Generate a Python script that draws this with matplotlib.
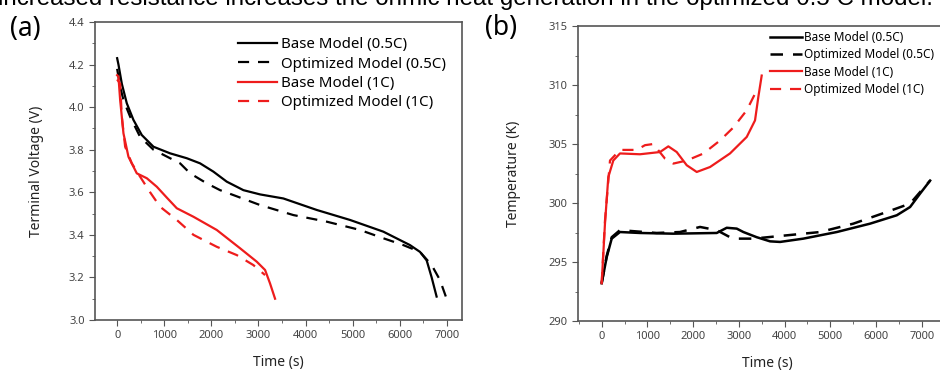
import matplotlib
matplotlib.use("Agg")
import matplotlib.pyplot as plt
from matplotlib.ticker import MultipleLocator

plt.rcParams['font.family'] = ['Noto Sans', 'DejaVu Sans']

# ---------------- (a) terminal voltage ----------------
t_base_05 = [0, 28, 99, 205, 346, 523, 771, 1124, 1478, 1760, 2043, 2326, 2680, 3034, 3528,
             4236, 4943, 5650, 6215, 6428, 6570, 6676, 6781]
v_base_05 = [4.23, 4.20, 4.11, 4.018, 3.94, 3.869, 3.814, 3.783, 3.76, 3.736, 3.697, 3.65, 3.61, 3.59, 3.571,
             3.517, 3.47, 3.415, 3.352, 3.32, 3.28, 3.20, 3.11]

t_opt_05 = [0, 60, 134, 276, 488, 771, 1124, 1336, 1549, 1902, 2185, 2467, 3034, 3740, 4448,
            5155, 5650, 6074, 6428, 6676, 6852, 6993]
v_opt_05 = [4.18, 4.10, 4.033, 3.955, 3.86, 3.80, 3.76, 3.736, 3.689, 3.642, 3.61, 3.587, 3.54, 3.493, 3.462,
            3.423, 3.384, 3.352, 3.32, 3.258, 3.188, 3.10]

t_base_1 = [0, 28, 64, 134, 240, 417, 630, 842, 1054, 1266, 1620, 2114, 2609, 2963, 3140, 3245, 3352]
v_base_1 = [4.15, 4.143, 4.033, 3.877, 3.767, 3.689, 3.666, 3.626, 3.575, 3.525, 3.485, 3.423, 3.337,
            3.274, 3.235, 3.172, 3.10]

t_opt_1 = [0, 64, 99, 170, 311, 488, 700, 912, 1266, 1620, 2114, 2539, 2892, 3140]
v_opt_1 = [4.13, 4.11, 3.955, 3.814, 3.736, 3.673, 3.60, 3.532, 3.47, 3.40, 3.344, 3.305, 3.258, 3.211]

# ---------------- (b) temperature ----------------
tt_base_05 = [0, 109, 219, 400, 838, 1567, 2516, 2735, 2954, 3099, 3392, 3683, 3902, 4411, 5142,
              5871, 6455, 6746, 6965, 7184]
T_base_05 = [293.2, 295.4, 296.98, 297.54, 297.46, 297.4, 297.46, 297.9, 297.83, 297.54, 297.1, 296.75,
             296.7, 296.98, 297.54, 298.25, 298.96, 299.66, 300.8, 301.9]

tt_opt_05 = [0, 109, 219, 400, 1203, 1713, 2151, 2516, 2807, 2880, 3317, 4048, 4777, 5505, 6236,
             6746, 6965, 7184]
T_opt_05 = [293.2, 295.5, 297.1, 297.7, 297.46, 297.54, 297.97, 297.7, 297.1, 296.98, 296.98, 297.26,
            297.54, 298.25, 299.24, 299.95, 300.93, 301.9]

tt_base_1 = [0, 72, 145, 254, 400, 838, 1276, 1458, 1641, 1860, 2079, 2370, 2807, 3173, 3354, 3427, 3500]
T_base_1 = [293.2, 298.25, 302.2, 303.6, 304.2, 304.13, 304.32, 304.8, 304.32, 303.2, 302.63, 303.05,
            304.2, 305.6, 307.0, 309.0, 310.8]

tt_opt_1 = [0, 72, 182, 400, 766, 947, 1130, 1385, 1567, 1860, 2224, 2589, 2880, 3173, 3392]
T_opt_1 = [293.2, 298.5, 303.6, 304.5, 304.5, 304.9, 305.0, 303.76, 303.34, 303.6, 304.19, 305.3, 306.4,
           307.86, 309.55]

labels = ["Base Model (0.5C)", "Optimized Model (0.5C)", "Base Model (1C)", "Optimized Model (1C)"]

fig = plt.figure(figsize=(9.4, 3.7), dpi=100)

# clipped caption line at the very top
fig.text(-0.002, 1 - 4.5 / 370, "increased resistance increases the ohmic heat generation in the optimized 0.5 C model.",
         family='Liberation Sans', fontsize=17.4, va='baseline', ha='left', color='black')

fig.text(10 / 940, 1 - 29 / 370, "(a)", fontsize=19, va='center', ha='left')
fig.text(485 / 940, 1 - 28 / 370, "(b)", fontsize=19, va='center', ha='left')

tick_col = '#444444'
dash = (0, (5, 4))
red = '#ee1c1c'

# ===============================
# Panel (a)
# ===============================
ax1 = fig.add_axes([95 / 940, 1 - 320 / 370, (462 - 95) / 940, (320 - 22) / 370])
ax1.plot(t_base_05, v_base_05, color='black', lw=1.6, label=labels[0])
ax1.plot(t_opt_05, v_opt_05, color='black', lw=1.6, ls=dash, label=labels[1])
ax1.plot(t_base_1, v_base_1, color=red, lw=1.6, label=labels[2])
ax1.plot(t_opt_1, v_opt_1, color=red, lw=1.6, ls=dash, label=labels[3])
ax1.set_xlim(-470, 7320)
ax1.set_ylim(3.0, 4.4)
ax1.xaxis.set_major_locator(MultipleLocator(1000))
ax1.xaxis.set_minor_locator(MultipleLocator(500))
ax1.yaxis.set_major_locator(MultipleLocator(0.2))
ax1.yaxis.set_minor_locator(MultipleLocator(0.1))
ax1.yaxis.set_major_formatter(plt.FormatStrFormatter('%.1f'))
ax1.set_xlabel("Time (s)", fontsize=10, color='#222222', labelpad=9.5)
ax1.set_ylabel("Terminal Voltage (V)", fontsize=10, color='#222222', labelpad=18)
ax1.legend(loc='upper left', frameon=False, fontsize=10.8, handlelength=2.6, handletextpad=0.26,
           labelspacing=0.3, borderpad=0, borderaxespad=0,
           bbox_to_anchor=(238 / 940, 1 - 37 / 370), bbox_transform=fig.transFigure)

# ===============================
# Panel (b)
# ===============================
ax2 = fig.add_axes([578 / 940, 1 - 321 / 370, (956 - 578) / 940, (321 - 26) / 370])
ax2.plot(tt_base_05, T_base_05, color='black', lw=1.8, label=labels[0])
ax2.plot(tt_opt_05, T_opt_05, color='black', lw=1.8, ls=dash, label=labels[1])
ax2.plot(tt_base_1, T_base_1, color=red, lw=1.6, label=labels[2])
ax2.plot(tt_opt_1, T_opt_1, color=red, lw=1.6, ls=dash, label=labels[3])
ax2.set_xlim(-518, 7750)
ax2.set_ylim(290, 315)
ax2.xaxis.set_major_locator(MultipleLocator(1000))
ax2.xaxis.set_minor_locator(MultipleLocator(500))
ax2.yaxis.set_major_locator(MultipleLocator(5))
ax2.yaxis.set_minor_locator(MultipleLocator(2.5))
ax2.set_xlabel("Time (s)", fontsize=10, color='#222222', labelpad=9.5)
ax2.set_ylabel("Temperature (K)", fontsize=10, color='#222222', labelpad=20)
ax2.legend(loc='upper left', frameon=False, fontsize=8.5, handlelength=2.7, handletextpad=0.17,
           labelspacing=0.36, borderpad=0, borderaxespad=0,
           bbox_to_anchor=(770 / 940, 1 - 31 / 370), bbox_transform=fig.transFigure)

for ax in (ax1, ax2):
    for s in ax.spines.values():
        s.set_color('#555555')
        s.set_linewidth(1.2)
    ax.tick_params(which='both', direction='out', colors='#555555', labelcolor=tick_col, labelsize=8)
    ax.tick_params(which='major', length=4)
    ax.tick_params(which='minor', length=2.5)

fig.savefig("out.png", dpi=100)
